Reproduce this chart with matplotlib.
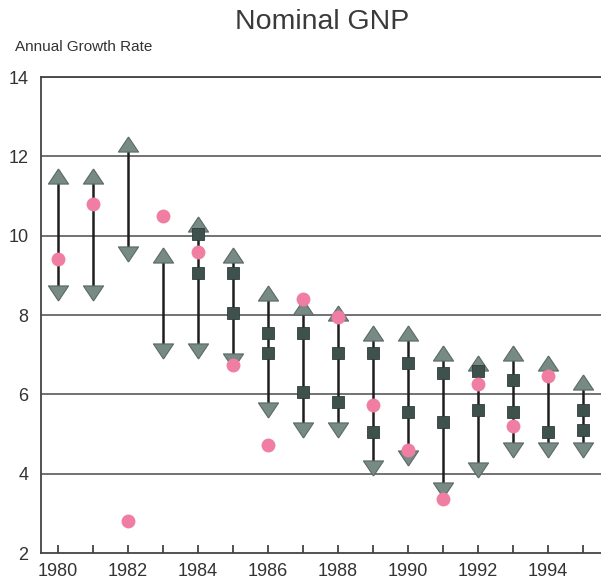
import numpy as np
import matplotlib
matplotlib.use("Agg")
import matplotlib.pyplot as plt

years = np.arange(1980, 1996)
high = [11.5, 11.5, 12.3, 9.5, 10.3, 9.5, 8.55, 8.2, 8.05, 7.55, 7.55, 7.05, 6.8, 7.05, 6.8, 6.3]
low = [8.55, 8.55, 9.55, 7.1, 7.1, 6.85, 5.6, 5.1, 5.1, 4.15, 4.4, 3.6, 4.1, 4.6, 4.6, 4.6]
square_upper = [np.nan, np.nan, np.nan, np.nan, 10.05, 9.05, 7.55, 7.55, 7.05, 7.05, 6.8, 6.55, 6.6, 6.35, np.nan, 5.6]
square_lower = [np.nan, np.nan, np.nan, np.nan, 9.05, 8.05, 7.05, 6.05, 5.8, 5.05, 5.55, 5.3, 5.6, 5.55, 5.05, 5.1]
actual = [9.4, 10.8, 2.8, 10.5, 9.6, 6.75, 4.72, 8.4, 7.95, 5.72, 4.6, 3.35, 6.25, 5.2, 6.45, np.nan]

yticks = [2, 4, 6, 8, 10, 12, 14]
xtick_labels = ["1980", "1982", "1984", "1986", "1988", "1990", "1992", "1994"]

plt.rcParams['font.family'] = ['Liberation Sans', 'DejaVu Sans']

fig = plt.figure(figsize=(6.01, 5.84), dpi=100)
ax = fig.add_axes([41/601, 1 - 553/584, 1 - 41/601, (553 - 77)/584])

grid_col = "#5a5a5a"
for y in yticks[1:]:
    ax.axhline(y, color=grid_col, lw=1.2, zorder=1)

tri_up = [(0, 0.75), (-1, -0.75), (1, -0.75), (0, 0.75)]
tri_dn = [(0, -0.75), (-1, 0.75), (1, 0.75), (0, -0.75)]
tri_col = "#788a85"
tri_edge = "#5a6a65"
sq_col = "#3f514d"
circ_col = "#f07ea3"

ax.vlines(years, low, high, color="#1e1e1e", lw=1.8, zorder=2)
ax.plot(years, high, linestyle="none", marker=tri_up, ms=14.5, mfc=tri_col, mec=tri_edge, mew=0.8, zorder=3)
ax.plot(years, low, linestyle="none", marker=tri_dn, ms=14.5, mfc=tri_col, mec=tri_edge, mew=0.8, zorder=3)
ax.plot(years, square_upper, linestyle="none", marker="s", ms=9, mfc=sq_col, mec="#2e3d3a", mew=0.6, zorder=4)
ax.plot(years, square_lower, linestyle="none", marker="s", ms=9, mfc=sq_col, mec="#2e3d3a", mew=0.6, zorder=4)
ax.plot(years, actual, linestyle="none", marker="o", ms=10, mfc=circ_col, mec=circ_col, mew=0, zorder=5)

ax.set_xlim(1979.52, 1995.52)
ax.set_ylim(2, 14)
ax.set_yticks(yticks)
ax.set_yticklabels([str(v) for v in yticks], fontsize=13, color="#333333")
ax.tick_params(axis="y", length=0, pad=9)
ax.set_xticks(years)
ax.set_xticklabels([str(y) if str(y) in xtick_labels else "" for y in years], fontsize=13, color="#333333")
ax.tick_params(axis="x", direction="in", length=6, width=1.2, color="#333333", pad=7)

for s in ["right"]:
    ax.spines[s].set_visible(False)
for s in ["left", "bottom", "top"]:
    ax.spines[s].set_color("#444444")
    ax.spines[s].set_linewidth(1.3)

fig.text(322/601, 1 - 22/584, "Nominal GNP", ha="center", va="center", fontsize=20.5, color="#3a3a3a")
fig.text(15/601, 1 - 47/584, "Annual Growth Rate", ha="left", va="center", fontsize=11, color="#333333")

fig.savefig("out.png", dpi=100)
